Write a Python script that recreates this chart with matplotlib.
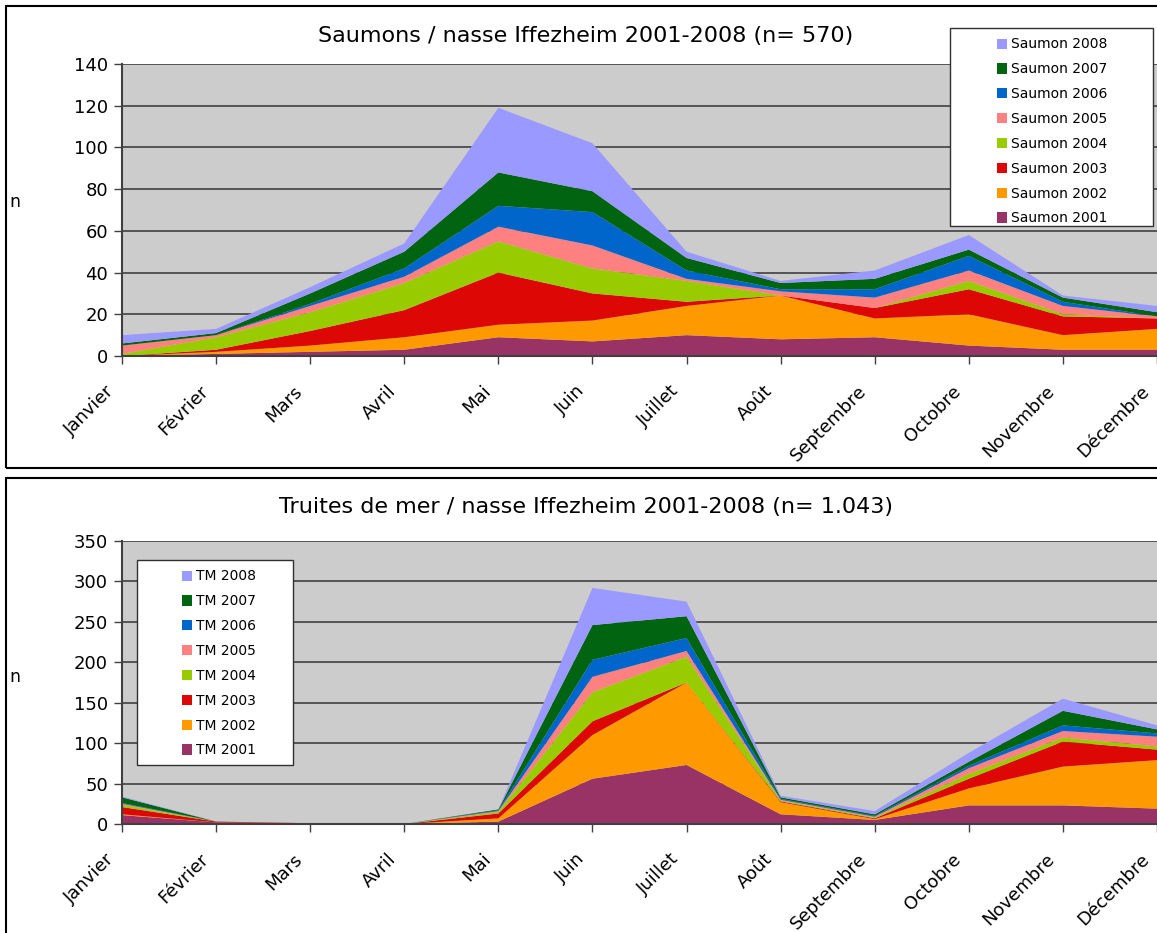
#!/usr/bin/env python
"""
Saumons / truites de mer a la nasse d'Iffezheim, 2001-2008, par mois.
"""

import matplotlib
matplotlib.use("Agg")
import matplotlib.pyplot as plt
from matplotlib.patches import Patch, Rectangle

months = ["Janvier", "Février", "Mars", "Avril", "Mai", "Juin", "Juillet",
          "Août", "Septembre", "Octobre", "Novembre", "Décembre"]
years = [2001, 2002, 2003, 2004, 2005, 2006, 2007, 2008]

# Saumons: counts per month, per year (read from the stacked areas)
saumon_2001 = [0, 1, 2, 3, 9, 7, 10, 8, 9, 5, 3, 3]
saumon_2002 = [0, 1, 3, 6, 6, 10, 14, 21, 9, 15, 7, 10]
saumon_2003 = [0, 1, 7, 13, 25, 13, 2, 0, 5, 12, 9, 5]
saumon_2004 = [1, 6, 9, 13, 15, 12, 10, 0, 0, 4, 1, 0]
saumon_2005 = [4, 1, 3, 3, 7, 11, 1, 2, 5, 5, 4, 1]
saumon_2006 = [0, 0, 1, 4, 10, 16, 4, 1, 4, 7, 2, 0]
saumon_2007 = [1, 1, 5, 8, 16, 10, 6, 3, 5, 3, 2, 2]
saumon_2008 = [4, 2, 3, 4, 31, 23, 3, 1, 4, 7, 1, 3]

# Truites de mer
tm_2001 = [11, 2, 1, 0, 3, 56, 73, 12, 5, 23, 23, 19]
tm_2002 = [1, 0, 0, 0, 4, 54, 102, 15, 1, 21, 48, 60]
tm_2003 = [9, 1, 0, 0, 6, 17, 0, 1, 1, 12, 31, 13]
tm_2004 = [3, 0, 0, 0, 2, 36, 32, 1, 1, 6, 5, 4]
tm_2005 = [1, 0, 0, 0, 1, 19, 7, 1, 1, 7, 8, 12]
tm_2006 = [1, 0, 0, 0, 1, 21, 16, 1, 1, 3, 7, 4]
tm_2007 = [7, 0, 0, 0, 1, 43, 27, 2, 2, 5, 18, 5]
tm_2008 = [1, 0, 0, 0, 0, 46, 18, 2, 4, 11, 15, 5]

saumons = [saumon_2001, saumon_2002, saumon_2003, saumon_2004,
           saumon_2005, saumon_2006, saumon_2007, saumon_2008]
truites = [tm_2001, tm_2002, tm_2003, tm_2004,
           tm_2005, tm_2006, tm_2007, tm_2008]

colors = ["#993366", "#FF9900", "#DD0806", "#99CC00",
          "#FF8080", "#0066CC", "#006411", "#9999FF"]

W, H = 1157, 933
fig = plt.figure(figsize=(W / 100, H / 100), dpi=100)
fig.patch.set_facecolor("white")


def fx(px):
    return px / W


def fy(py):
    return 1 - py / H


def panel(top, bottom, plot_top, plot_bottom, data, ymax, ystep,
          title, title_y, prefix, leg_box, n_y):
    # outer frame of the panel
    fig.add_artist(Rectangle((fx(6), fy(bottom)), fx(W + 10) - fx(6),
                             fy(top) - fy(bottom), transform=fig.transFigure,
                             fill=False, edgecolor="black", linewidth=1.5))

    ax = fig.add_axes([fx(122), fy(plot_bottom), fx(W) - fx(122),
                       fy(plot_top) - fy(plot_bottom)])
    ax.set_facecolor("#CCCCCC")
    x = list(range(len(months)))
    ax.stackplot(x, *data, colors=colors, linewidth=0)

    ax.set_xlim(0, len(months) - 1)
    ax.set_ylim(0, ymax)
    ax.set_yticks(range(0, ymax + 1, ystep))
    ax.yaxis.grid(True, color="#404040", linewidth=1.2)
    ax.set_axisbelow(True)
    ax.set_xticks(x)
    ax.set_xticklabels([])
    # month labels, rotated like Excel does it
    for i, m in enumerate(months):
        ax.annotate(m, xy=(i, 0), xycoords=("data", "axes fraction"),
                    xytext=(-17, -26), textcoords="offset pixels",
                    rotation=45, ha="right", va="top",
                    rotation_mode="anchor", fontsize=13,
                    annotation_clip=False)
    ax.tick_params(axis="y", labelsize=13, length=6, width=1,
                   color="#404040", pad=4)
    ax.tick_params(axis="x", length=6, width=1, color="#404040")
    for s in ["top", "right"]:
        ax.spines[s].set_visible(False)
    for s in ["left", "bottom"]:
        ax.spines[s].set_color("#404040")
        ax.spines[s].set_linewidth(1.5)

    fig.text(fx(586), fy(title_y), title, ha="center", va="center",
             fontsize=16)
    fig.text(fx(15), fy(n_y), "n", ha="center", va="center", fontsize=12.5)

    # legend, box drawn separately so it has the same padding as the original
    x0, y0, x1, y1, hx = leg_box
    fig.add_artist(Rectangle((fx(x0), fy(y1)), fx(x1) - fx(x0),
                             fy(y0) - fy(y1), transform=fig.transFigure,
                             facecolor="white", edgecolor="#303030",
                             linewidth=1, zorder=5))
    handles = [Patch(facecolor=c, edgecolor="none") for c in colors][::-1]
    labels = [f"{prefix} {y}" for y in years][::-1]
    leg = fig.legend(handles, labels, loc="upper left",
                     bbox_to_anchor=(fx(hx), fy(y0 - 3)),
                     frameon=False, fontsize=10, handlelength=0.75,
                     handleheight=0.75, handletextpad=0.3, labelspacing=0.78)
    leg.set_zorder(6)
    return ax


panel(6, 468, 64, 356, saumons, 140, 20,
      "Saumons / nasse Iffezheim 2001-2008 (n= 570)", 36,
      "Saumon", (950, 28, 1153, 226, 984), 202)

panel(478, 940, 541, 824, truites, 350, 50,
      "Truites de mer / nasse Iffezheim 2001-2008 (n= 1.043)", 507,
      "TM", (137, 560, 293, 765, 169), 677)

plt.savefig("out.png", dpi=100)
